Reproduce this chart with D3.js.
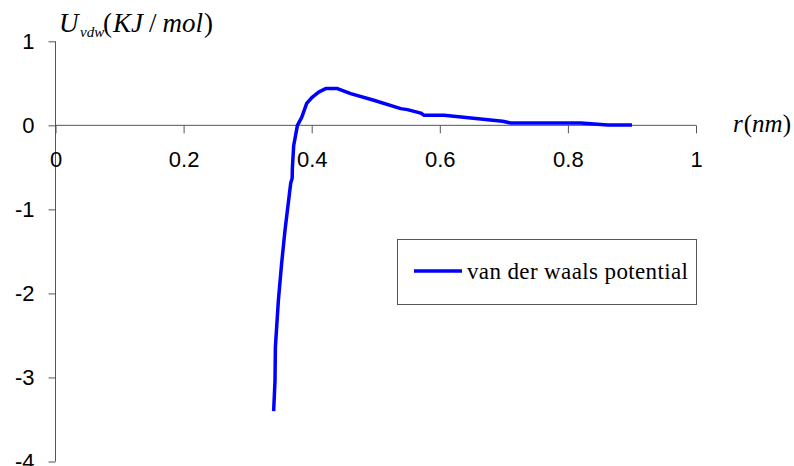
<!DOCTYPE html>
<html>
<head>
<meta charset="utf-8">
<script src="https://cdn.jsdelivr.net/npm/d3@7"></script>
<style>
  html, body { margin: 0; padding: 0; background: #fff; }
  svg { display: block; }
</style>
</head>
<body>
<svg id="chart" width="794" height="466"></svg>
<script>
// Distance r (nm) and van der Waals potential U (kJ/mol)
const rValues = [0.3406, 0.3427, 0.3433, 0.348, 0.3531, 0.3583, 0.3672, 0.3695, 0.3698, 0.3719,
  0.3777, 0.3844, 0.3922, 0.4011, 0.4109, 0.4219, 0.4402, 0.4609, 0.4969, 0.5391,
  0.5495, 0.5703, 0.5755, 0.6067, 0.698, 0.7109, 0.8203, 0.862, 0.9];
const uValues = [-3.40, -3.04, -2.64, -2.08, -1.64, -1.25, -0.69, -0.63, -0.51, -0.24,
  0.0, 0.095, 0.262, 0.337, 0.396, 0.437, 0.437, 0.377, 0.298, 0.199,
  0.187, 0.146, 0.119, 0.119, 0.048, 0.027, 0.027, 0.004, 0.004];
const xTicks = [0, 0.2, 0.4, 0.6, 0.8, 1];
const yTicks = [1, 0, -1, -2, -3, -4];
const seriesName = "van der waals potential";

const svg = d3.select("#chart");
const x = d3.scaleLinear().domain([0, 1]).range([55.5, 696]);
const y = d3.scaleLinear().domain([-4, 1]).range([461.5, 41.3]);
const axisColor = "#555";
const fmt = d => String(d);   // plain hyphen for negatives

// y axis on the left edge, ticks pointing left
const yAxis = svg.append("g")
  .attr("transform", `translate(${x(0)},0)`)
  .call(d3.axisLeft(y).tickValues(yTicks).tickSize(7).tickPadding(14).tickFormat(fmt));
// x axis through U = 0, ticks pointing down
const xAxis = svg.append("g")
  .attr("transform", `translate(0,${y(0)})`)
  .call(d3.axisBottom(x).tickValues(xTicks).tickSize(8).tickPadding(18).tickFormat(fmt));

[yAxis, xAxis].forEach(g => {
  g.select(".domain").attr("stroke", axisColor).attr("stroke-width", 1);
  g.selectAll(".tick line").attr("stroke", axisColor);
  g.selectAll(".tick text")
    .attr("fill", "#000")
    .attr("font-family", "Liberation Sans, Arial, sans-serif")
    .attr("font-size", 22);
});
yAxis.select(".domain").attr("d", `M0,${y(-4)}V${y(1)}`);
yAxis.selectAll(".tick line").attr("x1", 0);
xAxis.select(".domain").attr("d", `M${x(0)},0H${x(1)}`);

// Potential curve
const pts = rValues.map((r, i) => [r, uValues[i]]);
svg.append("path")
  .datum(pts)
  .attr("fill", "none")
  .attr("stroke", "#0000ff")
  .attr("stroke-width", 3.5)
  .attr("stroke-linejoin", "round")
  .attr("d", d3.line().x(d => x(d[0])).y(d => y(d[1])));

// Axis titles (serif, math style)
const serif = "Liberation Serif, Times New Roman, serif";
const yTitle = svg.append("text").attr("font-family", serif).attr("font-size", 27).attr("y", 32);
yTitle.append("tspan").attr("x", 59).attr("font-style", "italic").text("U");
yTitle.append("tspan").attr("x", 80).attr("dy", 5).attr("font-size", 15).attr("font-style", "italic").text("vdw");
yTitle.append("tspan").attr("x", 103).attr("dy", -5).text("(");
yTitle.append("tspan").attr("dx", 1).attr("font-style", "italic").text("KJ");
yTitle.append("tspan").attr("dx", 6).text("/");
yTitle.append("tspan").attr("dx", 6).attr("font-style", "italic").text("mol");
yTitle.append("tspan").attr("dx", 1).text(")");

const xTitle = svg.append("text").attr("font-family", serif).attr("font-size", 25).attr("x", 733).attr("y", 132);
xTitle.append("tspan").attr("font-style", "italic").text("r");
xTitle.append("tspan").attr("dx", 1).text("(");
xTitle.append("tspan").attr("font-style", "italic").text("nm");
xTitle.append("tspan").text(")");

// Legend
const legend = svg.append("g");
legend.append("rect")
  .attr("x", 397.5).attr("y", 239.5).attr("width", 299).attr("height", 65)
  .attr("fill", "#fff").attr("stroke", axisColor).attr("stroke-width", 1);
legend.append("line")
  .attr("x1", 414).attr("x2", 462).attr("y1", 271).attr("y2", 271)
  .attr("stroke", "#0000ff").attr("stroke-width", 3.5);
legend.append("text")
  .attr("x", 467).attr("y", 279)
  .attr("font-family", serif).attr("font-size", 23)
  .attr("textLength", 221).attr("lengthAdjust", "spacing")
  .text(seriesName);
</script>
</body>
</html>
